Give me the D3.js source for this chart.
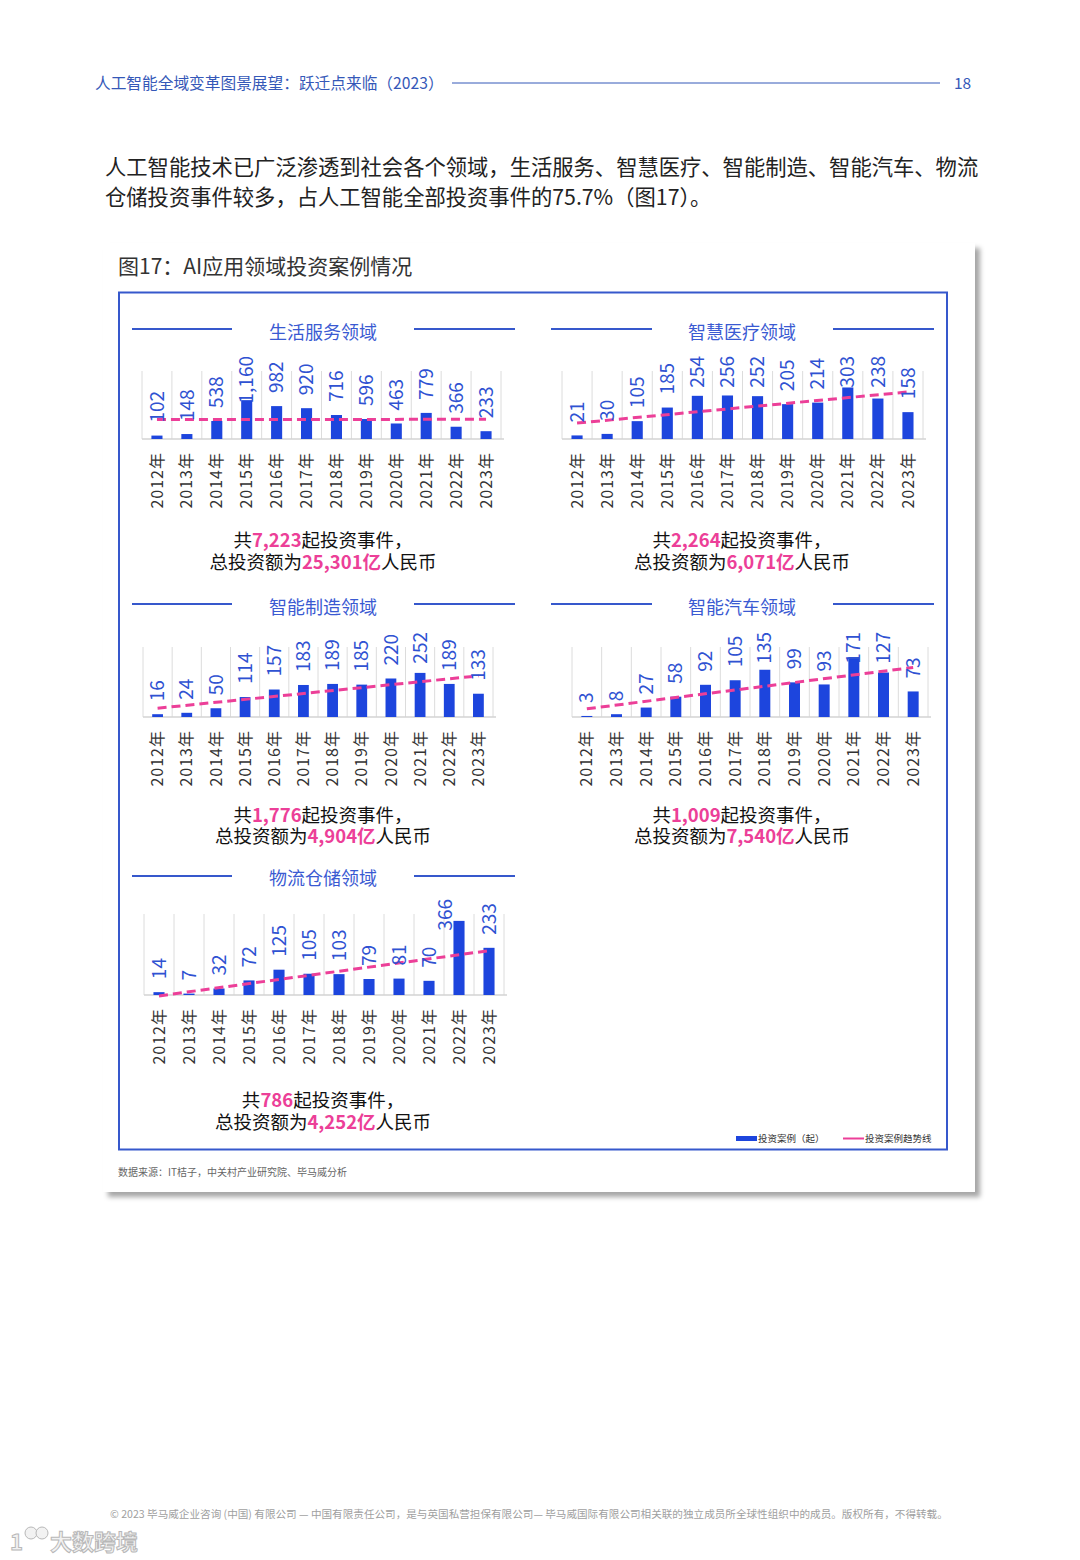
<!DOCTYPE html>
<html><head><meta charset="utf-8">
<script src="https://cdn.jsdelivr.net/npm/d3@7/dist/d3.min.js"></script>
<style>
html,body{margin:0;padding:0;background:#fff;}
svg text{font-family:"Noto Sans CJK SC","Noto Sans",sans-serif;}
</style></head>
<body>
<svg id="c" width="1080" height="1560"></svg>
<script>
// ---------- data ----------
const years = ["2012年","2013年","2014年","2015年","2016年","2017年","2018年","2019年","2020年","2021年","2022年","2023年"];
const panelTitles = ["生活服务领域","智慧医疗领域","智能制造领域","智能汽车领域","物流仓储领域"];
const lifeServices = [102,148,538,1160,982,920,716,596,463,779,366,233];
const smartMedical = [21,30,105,185,254,256,252,205,214,303,238,158];
const smartManufacturing = [16,24,50,114,157,183,189,185,220,252,189,133];
const smartCar = [3,8,27,58,92,105,135,99,93,171,127,73];
const logistics = [14,7,32,72,125,105,103,79,81,70,366,233];
const eventTotals = ["7,223","2,264","1,776","1,009","786"];
const amountTotals = ["25,301","6,071","4,904","7,540","4,252"];
const axisMax = [2030,400,400,200,400];
const legendLabels = ["投资案例（起）","投资案例趋势线"];

const seriesList = [lifeServices, smartMedical, smartManufacturing, smartCar, logistics];

// ---------- layout ----------
const rows = [
  {head:332, line:329, top:371, base:439, tot1:547, tot2:569},
  {head:607, line:604, top:647, base:717, tot1:822, tot2:843},
  {head:878, line:876, top:914, base:995, tot1:1107, tot2:1129}
];
const cols = [
  {cx:323, l1:[132,232], l2:[414,515]},
  {cx:742, l1:[551,652], l2:[833,934]}
];
const panelLayout = [
  {row:0,col:0,x:[142,501]},
  {row:0,col:1,x:[562,923]},
  {row:1,col:0,x:[143,493]},
  {row:1,col:1,x:[572,928]},
  {row:2,col:0,x:[144,504]}
];

const BLUE_BAR="#1d45dd", BLUE_TXT="#2f52d2", PINK="#ec3f98", FRAME="#3658cc";

const svg = d3.select("#c");
const defs = svg.append("defs");
const f = defs.append("filter").attr("id","sh").attr("x","-5%").attr("y","-5%").attr("width","112%").attr("height","112%");
f.append("feDropShadow").attr("dx",5).attr("dy",5).attr("stdDeviation",2.5).attr("flood-color","#000").attr("flood-opacity",0.35);

// header
svg.append("text").attr("x",95).attr("y",89).attr("font-size",15.7).attr("fill","#3558b8")
  .text("人工智能全域变革图景展望：跃迁点来临（2023）");
svg.append("line").attr("x1",452).attr("x2",940).attr("y1",83).attr("y2",83).attr("stroke","#3558b8").attr("stroke-width",1);
svg.append("text").attr("x",954).attr("y",89).attr("font-size",15.5).attr("fill","#3558b8").text("18");

// paragraph
svg.append("text").attr("x",105).attr("y",175).attr("font-size",21.3).attr("fill","#222")
  .text("人工智能技术已广泛渗透到社会各个领域，生活服务、智慧医疗、智能制造、智能汽车、物流");
svg.append("text").attr("x",105).attr("y",205).attr("font-size",21.3).attr("fill","#222")
  .text("仓储投资事件较多，占人工智能全部投资事件的75.7%（图17）。");

// card
svg.append("rect").attr("x",103).attr("y",243).attr("width",872).attr("height",949).attr("fill","#fff").attr("filter","url(#sh)");
svg.append("text").attr("x",118).attr("y",274).attr("font-size",21).attr("fill","#333").text("图17：AI应用领域投资案例情况");
svg.append("rect").attr("x",119).attr("y",292.5).attr("width",828).attr("height",857).attr("fill","none").attr("stroke",FRAME).attr("stroke-width",2);

// helper: a centred line made of separate text runs
function runLine(g, cxp, yb, parts){
  const fsz=18.5;
  const nodes = parts.map(p=>g.append("text").attr("y",yb).attr("font-size",fsz)
    .attr("fill",p.pink?PINK:"#111").attr("font-weight",p.pink?"bold":"normal").text(p.t));
  const widths = nodes.map(nd=>nd.node().getComputedTextLength());
  let xx = cxp - d3.sum(widths)/2;
  nodes.forEach((nd,k)=>{ nd.attr("x",xx); xx+=widths[k]; });
}

// panels
seriesList.forEach((vals,i)=>{
  const P = panelLayout[i], R = rows[P.row], C = cols[P.col];
  const g = svg.append("g");
  [C.l1,C.l2].forEach(l=>g.append("line").attr("x1",l[0]).attr("x2",l[1]).attr("y1",R.line).attr("y2",R.line).attr("stroke",FRAME).attr("stroke-width",2));
  g.append("text").attr("x",C.cx).attr("y",R.head+7).attr("text-anchor","middle").attr("font-size",18).attr("fill","#3a5ad2").text(panelTitles[i]);

  const x = d3.scaleBand().domain(years).range(P.x).padding(0);
  const y = d3.scaleLinear().domain([0,axisMax[i]]).range([R.base,R.top]);
  const bw = x.bandwidth()*0.37;

  const bounds = years.map(d=>x(d)).concat([P.x[1]]);
  g.selectAll(".gl").data(bounds).join("line").attr("x1",d=>d).attr("x2",d=>d)
    .attr("y1",R.top).attr("y2",R.base).attr("stroke","#dcdcdc").attr("stroke-width",1);
  g.append("line").attr("x1",P.x[0]).attr("x2",P.x[1]+3).attr("y1",R.base).attr("y2",R.base).attr("stroke","#d3d3d3").attr("stroke-width",1.5);

  g.selectAll(".bar").data(vals).join("rect")
    .attr("x",(d,j)=>x(years[j])+x.bandwidth()/2-bw/2).attr("width",bw)
    .attr("y",d=>y(d)).attr("height",d=>R.base-y(d)).attr("fill",BLUE_BAR);

  // regression trend line
  const n = vals.length, mx=(n-1)/2, my=d3.mean(vals);
  let sxy=0,sxx=0; vals.forEach((v,j)=>{sxy+=(j-mx)*(v-my); sxx+=(j-mx)*(j-mx);});
  const slope=sxy/sxx, icpt=my-slope*mx;
  const cx = j=>x(years[j])+x.bandwidth()/2;
  g.append("line").attr("x1",cx(0)).attr("x2",cx(n-1)).attr("y1",y(icpt)).attr("y2",y(icpt+slope*(n-1)))
    .attr("stroke",PINK).attr("stroke-width",3).attr("stroke-dasharray","9,5");

  // value labels (rotated)
  vals.forEach((v,j)=>{
    const t = g.append("text").attr("font-size",19).attr("fill",BLUE_TXT).attr("dy","0.35em")
      .text(d3.format(",")(v));
    const len = t.node().getComputedTextLength();
    let bottom = y(v)-13, dx=0;
    const limit = R.top-15;
    if(bottom-len<limit){ bottom = limit+len; if(bottom>y(v)+8) dx=-14; }
    t.attr("transform",`translate(${cx(j)+dx},${bottom}) rotate(-90)`);
  });

  // category labels
  years.forEach((yr,j)=>{
    g.append("text").attr("font-size",16).attr("fill","#333").attr("letter-spacing",1).attr("dy","0.35em")
      .attr("text-anchor","end").attr("transform",`translate(${cx(j)},${R.base+13}) rotate(-90)`).text(yr);
  });

  // totals
  runLine(g, C.cx, R.tot1, [{t:"共"},{t:eventTotals[i],pink:true},{t:"起投资事件，"}]);
  runLine(g, C.cx, R.tot2, [{t:"总投资额为"},{t:amountTotals[i]+"亿",pink:true},{t:"人民币"}]);
});

// legend
svg.append("rect").attr("x",736).attr("y",1136).attr("width",21).attr("height",5).attr("fill",BLUE_BAR);
svg.append("text").attr("x",758).attr("y",1142).attr("font-size",9.5).attr("fill","#333").text(legendLabels[0]);
svg.append("line").attr("x1",843).attr("x2",864).attr("y1",1138.5).attr("y2",1138.5).attr("stroke",PINK).attr("stroke-width",2);
svg.append("text").attr("x",865).attr("y",1142).attr("font-size",9.5).attr("fill","#333").text(legendLabels[1]);

// source
svg.append("text").attr("x",118).attr("y",1176).attr("font-size",10).attr("fill","#666").text("数据来源：IT桔子，中关村产业研究院、毕马威分析");

// footer
svg.append("text").attr("x",110).attr("y",1518).attr("font-size",10.6).attr("fill","#a0a0a0")
  .text("© 2023 毕马威企业咨询 (中国) 有限公司 — 中国有限责任公司，是与英国私营担保有限公司— 毕马威国际有限公司相关联的独立成员所全球性组织中的成员。版权所有，不得转载。");

// watermark
const wm = svg.append("g").attr("fill","#f2f2f2").attr("stroke","#b8b8b8").attr("stroke-width",1);
wm.append("text").attr("x",10).attr("y",1550).attr("font-size",22).attr("font-weight","bold").text("1");
wm.append("circle").attr("cx",31).attr("cy",1533).attr("r",6);
wm.append("circle").attr("cx",42).attr("cy",1533).attr("r",6);
wm.append("text").attr("x",50).attr("y",1550).attr("font-size",22).attr("font-weight","bold").text("大数跨境");
</script>
</body></html>
